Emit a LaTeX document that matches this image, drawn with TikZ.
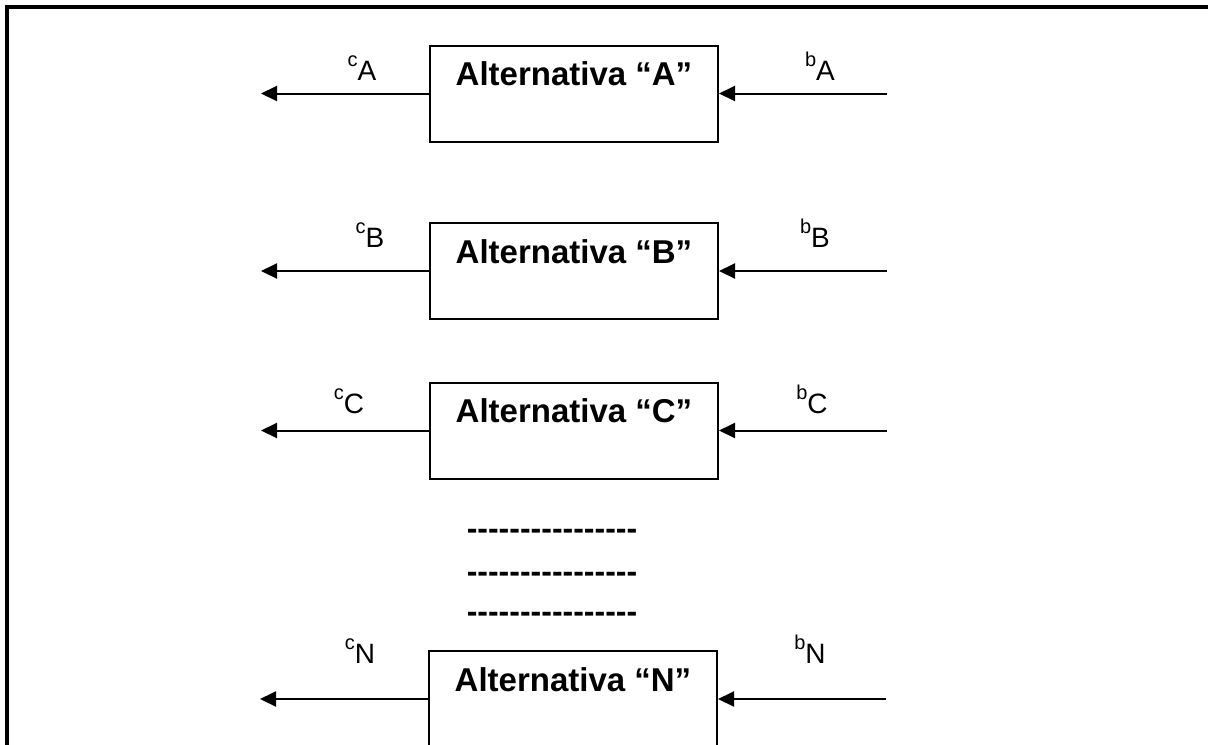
\documentclass[tikz,border=0pt]{standalone}
\usepackage{fontspec}
\setmainfont{Liberation Sans}
\usetikzlibrary{arrows.meta}
% small raised index letter in front of a flow label
\newcommand\lblsup[1]{\raisebox{7pt}{\fontsize{10}{11}\selectfont #1}}
% a run of sixteen separate hyphens (no en-dash ligature)
\newcommand\dashrun{\foreach \k in {1,...,16}{-\kern0pt}}
\begin{document}
\begin{tikzpicture}[x=0.5pt,y=-0.5pt,
  altbox/.style={draw,line width=1pt,minimum width=144pt,minimum height=48pt,inner sep=0pt},
  alttitle/.style={font=\fontsize{16.5}{20}\selectfont\bfseries,anchor=base,inner sep=0pt},
  flowlbl/.style={font=\fontsize{14}{16}\selectfont,anchor=base,inner sep=0pt},
  flow/.style={line width=1pt,-{Triangle[length=8pt,width=7.5pt]}},
  gap/.style={font=\fontsize{16}{18}\selectfont\bfseries,anchor=base,inner sep=0pt}]
\clip (0,0) rectangle (1208,744);
% frame
\draw[line width=2pt] (7,750) -- (7,7) -- (1215,7);

% Alternativa A
\node[altbox] (boxA) at (574,93.5) {};
\node[alttitle] (titA) at ([yshift=-20.5pt]boxA.north) {Alternativa “A”};
\coordinate (outA) at ([xshift=-84pt]boxA.west);
\coordinate (inA) at ([xshift=84pt]boxA.east);
\draw[flow] (boxA.west) -- (outA);
\draw[flow] (inA) -- (boxA.east);
\node[flowlbl] (cA) at (362,80) {\lblsup{c}A};
\node[flowlbl] (bA) at (820,80) {\lblsup{b}A};

% Alternativa B
\node[altbox] (boxB) at (574,271) {};
\node[alttitle] (titB) at ([yshift=-20.5pt]boxB.north) {Alternativa “B”};
\coordinate (outB) at ([xshift=-84pt]boxB.west);
\coordinate (inB) at ([xshift=84pt]boxB.east);
\draw[flow] (boxB.west) -- (outB);
\draw[flow] (inB) -- (boxB.east);
\node[flowlbl] (cB) at (370,247) {\lblsup{c}B};
\node[flowlbl] (bB) at (815,247) {\lblsup{b}B};

% Alternativa C
\node[altbox] (boxC) at (574,430.5) {};
\node[alttitle] (titC) at ([yshift=-20.5pt]boxC.north) {Alternativa “C”};
\coordinate (outC) at ([xshift=-84pt]boxC.west);
\coordinate (inC) at ([xshift=84pt]boxC.east);
\draw[flow] (boxC.west) -- (outC);
\draw[flow] (inC) -- (boxC.east);
\node[flowlbl] (cC) at (349,413) {\lblsup{c}C};
\node[flowlbl] (bC) at (812,413) {\lblsup{b}C};

% omitted alternatives
\node[gap] (gap1) at (552,539) {\dashrun};
\node[gap] (gap2) at (552,582) {\dashrun};
\node[gap] (gap3) at (552,622) {\dashrun};

% Alternativa N
\node[altbox] (boxN) at (573,699) {};
\node[alttitle] (titN) at ([yshift=-20.5pt]boxN.north) {Alternativa “N”};
\coordinate (outN) at ([xshift=-84pt]boxN.west);
\coordinate (inN) at ([xshift=84pt]boxN.east);
\draw[flow] (boxN.west) -- (outN);
\draw[flow] (inN) -- (boxN.east);
\node[flowlbl] (cN) at (360,663) {\lblsup{c}N};
\node[flowlbl] (bN) at (810,663) {\lblsup{b}N};
\end{tikzpicture}
\end{document}
